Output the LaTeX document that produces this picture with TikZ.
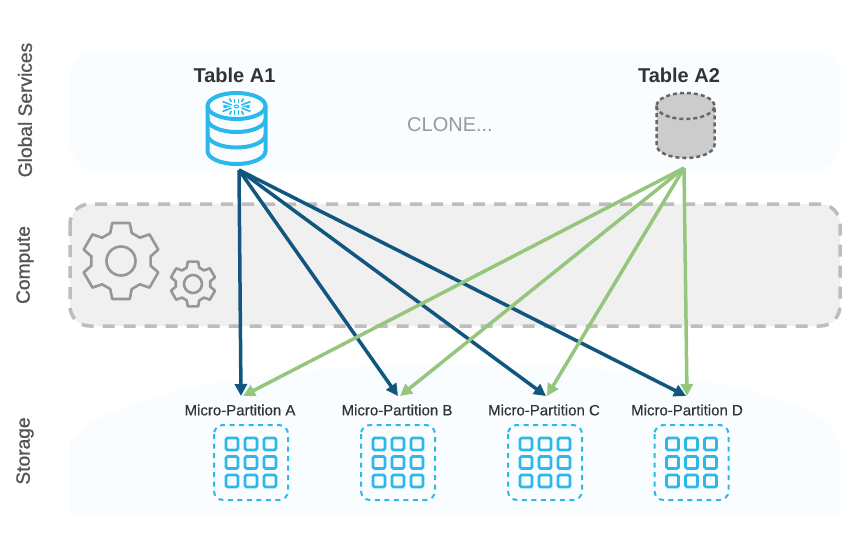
\documentclass[tikz,border=0pt]{standalone}
\usepackage{fontspec}
\setmainfont{Liberation Sans}
\usetikzlibrary{arrows.meta}
\definecolor{panel}{HTML}{FAFDFF}
\definecolor{computefill}{HTML}{F0F0F0}
\definecolor{computeline}{HTML}{BDBDBD}
\definecolor{gearline}{HTML}{969696}
\definecolor{sky}{HTML}{2DB8EA}
\definecolor{navy}{HTML}{11567F}
\definecolor{leaf}{HTML}{94C67C}
\definecolor{ink}{HTML}{333333}
\definecolor{sidegray}{HTML}{555555}
\tikzset{
  x=1pt,y=-1pt,
  title/.style={font=\fontsize{20}{24}\selectfont\bfseries,text=ink,inner sep=0pt},
  side/.style={font=\fontsize{19.2}{23}\selectfont\addfontfeatures{FakeBold=1},text=sidegray,rotate=90,inner sep=0pt},
  plabel/.style={font=\fontsize{15}{18}\selectfont\addfontfeatures{FakeBold=0.4},text=ink,inner sep=0pt,draw=none},
  bluearrow/.style={draw=navy,line width=3.5pt,-{Triangle[length=12pt,width=12pt]}},
  greenarrow/.style={draw=leaf,line width=3.5pt,-{Triangle[length=12pt,width=12pt]}},
  gearstroke/.style={draw=gearline,line width=2.6pt,line join=round},
  cell/.style={draw=sky,line width=2.8pt,rounded corners=1.5pt},
  pbox/.style={draw=sky,line width=2pt,dash pattern=on 5pt off 4.5pt,rounded corners=9pt},
  pics/gear/.style args={#1/#2/#3}{code={
    \draw[gearstroke]
      (69:#1) -- (77:#2) -- (103:#2) -- (111:#1) --
      (129:#1) -- (137:#2) -- (163:#2) -- (171:#1) --
      (189:#1) -- (197:#2) -- (223:#2) -- (231:#1) --
      (249:#1) -- (257:#2) -- (283:#2) -- (291:#1) --
      (309:#1) -- (317:#2) -- (343:#2) -- (351:#1) --
      (9:#1) -- (17:#2) -- (43:#2) -- (51:#1) -- cycle;
    \draw[gearstroke] (0,0) circle[radius=#3];
  }},
  pics/cells/.style={code={
    \foreach \cx in {-19,0,19}\foreach \cy in {-18.5,0,18.5}
      \draw[cell] (\cx-6,\cy-6) rectangle (\cx+6,\cy+6);
    \draw[pbox] (-37,-37.5) rectangle (37,37.5);
  }},
}
\begin{document}
\begin{tikzpicture}
\useasboundingbox (0,0) rectangle (848,558);
% panels
\fill[panel,rounded corners=28pt] (70,50) rectangle (841,171);
\fill[computefill,rounded corners=20pt] (70,204) rectangle (840,326);
\draw[computeline,line width=3.5pt,dash pattern=on 12pt off 9pt,rounded corners=20pt] (70,204) rectangle (840,326);
\fill[panel] (70,514) -- (70,445) .. controls (75,415) and (200,364) .. (455,364) .. controls (650,364) and (835,390) .. (840,445) -- (840,514) -- cycle;
% side labels
\node[side] (lglobal) at (25,110) {Global Services};
\node[side] (lcompute) at (25,265) {Compute};
\node[side] (lstorage) at (25,451) {Storage};
% gears
\pic at (121,261) {gear=30/39/14.5};
\pic at (193,284) {gear=17.5/23/9};
% Table A1
\node[title] (ta1) at (234.5,75) {Table A1};
\begin{scope}[draw=sky,line width=4pt]
  \draw (207.5,106) -- (207.5,151) arc[x radius=29,y radius=13,start angle=180,end angle=0] -- (265.5,106);
  \draw (207.5,119) arc[x radius=29,y radius=13,start angle=180,end angle=0];
  \draw (207.5,134.5) arc[x radius=29,y radius=13,start angle=180,end angle=0];
  \draw (236.5,106) ellipse[x radius=29,y radius=13];
\end{scope}
\begin{scope}[shift={(236.5,106.5)},draw=sky,line width=1.6pt]
  \draw[line width=1pt] (0,0) ellipse[x radius=2,y radius=1.5];
  \foreach \sx in {-1,1}{
    \draw (\sx*5,-1.5) -- (\sx*14,-5);
    \draw (\sx*5,1.5) -- (\sx*14,5);
    \draw (\sx*13,-1) -- (\sx*9,0) -- (\sx*13,1);
    \draw (\sx*2,-3.5) -- (\sx*2,-8);
    \draw (\sx*2,3.5) -- (\sx*2,8);
    \draw (\sx*7,-8) -- (\sx*5,-4.5);
    \draw (\sx*7,8) -- (\sx*5,4.5);
  }
\end{scope}
% Table A2
\node[title] (ta2) at (679,75) {Table A2};
\draw[fill=black!20,draw=black!60,line width=2.5pt,dash pattern=on 4pt off 3pt]
  (656.5,106) -- (656.5,145) arc[x radius=29,y radius=13,start angle=180,end angle=0] -- (714.5,106) arc[x radius=29,y radius=13,start angle=0,end angle=-180] -- cycle;
\draw[draw=black!60,line width=2.5pt,dash pattern=on 4pt off 3pt] (656.5,106) arc[x radius=29,y radius=13,start angle=180,end angle=0];
% clone label
\node[inner sep=0pt,text=black!40,font=\fontsize{20}{24}\selectfont] (clone) at (450,125) {CLONE...};
% partitions
\node[plabel] (pa) at (240,410) {Micro-Partition A};
\node[plabel] (pb) at (397,410) {Micro-Partition B};
\node[plabel] (pc) at (544,410) {Micro-Partition C};
\node[plabel] (pd) at (687,410) {Micro-Partition D};
\pic at (251,462.5) {cells};
\pic at (398,462.5) {cells};
\pic at (545,462.5) {cells};
\pic at (691.5,462.5) {cells};
% connector ends
\coordinate (a1) at (239,170);
\coordinate (a2) at (684,168);
\coordinate (ba) at (241,396);
\coordinate (bb) at (398,396);
\coordinate (bc) at (546,396);
\coordinate (bd) at (686,396);
\coordinate (ga) at (243,396);
\coordinate (gb) at (400,396);
\coordinate (gc) at (547,396);
\coordinate (gd) at (687,396);
\draw[bluearrow] (a1) -- (ba);
\draw[bluearrow] (a1) -- (bb);
\draw[bluearrow] (a1) -- (bc);
\draw[bluearrow] (a1) -- (bd);
\draw[greenarrow] (a2) -- (ga);
\draw[greenarrow] (a2) -- (gb);
\draw[greenarrow] (a2) -- (gc);
\draw[greenarrow] (a2) -- (gd);
\end{tikzpicture}
\end{document}
